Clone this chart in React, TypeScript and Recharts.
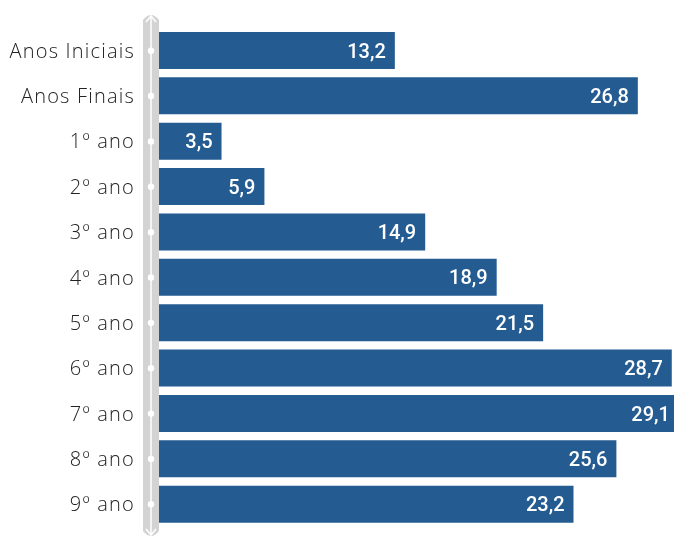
import React from 'react';
import { BarChart, Bar, XAxis, YAxis, LabelList, Customized } from 'recharts';

const categories = ['Anos Iniciais', 'Anos Finais', '1º ano', '2º ano', '3º ano', '4º ano', '5º ano', '6º ano', '7º ano', '8º ano', '9º ano'];
const values = [13.2, 26.8, 3.5, 5.9, 14.9, 18.9, 21.5, 28.7, 29.1, 25.6, 23.2];

const data = categories.map((name, i) => ({ name, value: values[i] }));

const W = 695;
const H = 545;
const TOP = 12;
const BOTTOM = 8;
const AXIS_W = 159;
const BAND_L = 143;
const BAND_R = 159;
const BAND_C = 151;

const Band = () => {
  const y0 = TOP;
  const y1 = H - BOTTOM;
  return (
    <g>
      <path
        d={`M${BAND_L},${y0 + 8} Q${BAND_C},${y0 - 2} ${BAND_R},${y0 + 8} L${BAND_R},${y1 - 6} Q${BAND_C},${y1 + 4} ${BAND_L},${y1 - 6} Z`}
        fill="#d3d3d4"
      />
      <line x1={BAND_C} y1={y0 + 4} x2={BAND_C} y2={y1 - 2} stroke="#fff" strokeWidth={1.5} />
      <polyline points={`${BAND_C - 5},${y0 + 10} ${BAND_C},${y0 + 4} ${BAND_C + 5},${y0 + 10}`} fill="none" stroke="#fff" strokeWidth={1.5} />
      <polyline points={`${BAND_C - 5},${y1 - 8} ${BAND_C},${y1 - 2} ${BAND_C + 5},${y1 - 8}`} fill="none" stroke="#fff" strokeWidth={1.5} />
    </g>
  );
};

const Tick = (props: any) => {
  const { y, payload } = props;
  return (
    <g>
      <text x={135} y={y} dy={7} textAnchor="end" fill="#222" fontSize={20} fontFamily="Open Sans" fontWeight={300} letterSpacing={1.2}>
        {payload.value}
      </text>
      <circle cx={BAND_C} cy={y} r={3.2} fill="#fff" />
    </g>
  );
};

export default function App() {
  return (
    <div style={{ position: 'fixed', left: 0, top: 0, width: 674, height: 537, overflow: 'hidden' }}>
      <BarChart
        width={W}
        height={H}
        data={data}
        layout="vertical"
        margin={{ top: TOP, right: 0, bottom: BOTTOM, left: 0 }}
        barCategoryGap={4}
      >
        <Customized component={Band} />
        <XAxis type="number" domain={[0, 30]} hide />
        <YAxis
          type="category"
          dataKey="name"
          width={AXIS_W}
          axisLine={false}
          tickLine={false}
          tick={<Tick />}
          interval={0}
          padding={{ top: 16, bottom: 10 }}
        />
        <Bar dataKey="value" fill="#245c92" isAnimationActive={false}>
          <LabelList
            dataKey="value"
            position="insideRight"
            offset={9}
            fill="#ffffff"
            fontSize={20}
            fontFamily="Roboto"
            fontWeight={500}
            formatter={(v: any) => String(v).replace('.', ',')}
          />
        </Bar>
      </BarChart>
    </div>
  );
}
